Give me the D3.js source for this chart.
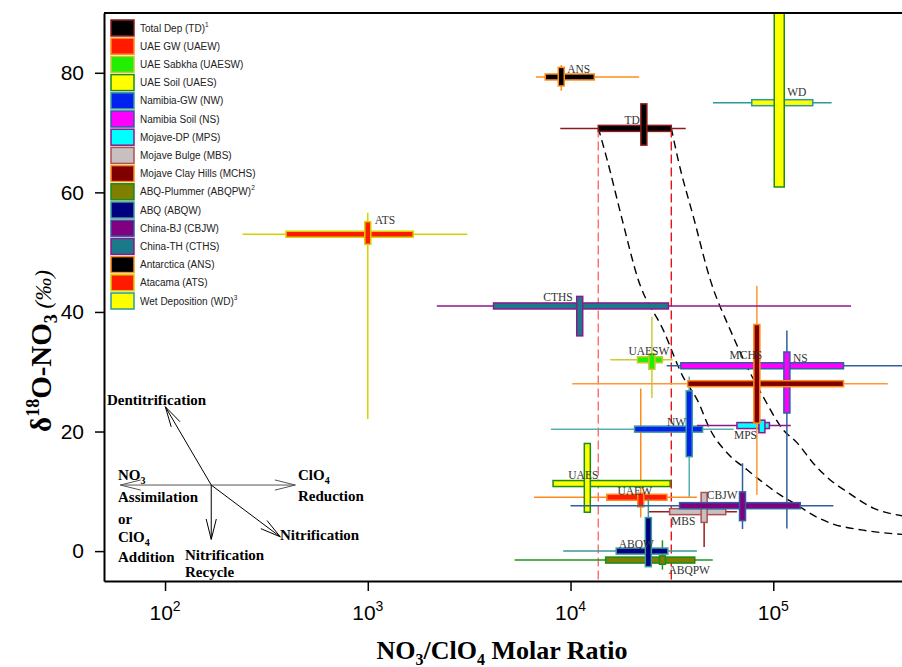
<!DOCTYPE html>
<html><head><meta charset="utf-8">
<script src="https://cdn.jsdelivr.net/npm/d3@7"></script>
<style>body{margin:0;background:#fff}svg{display:block}</style>
</head><body>
<svg id="chart" width="902" height="667"></svg>
<script>
// ---------------- DATA ----------------
const codes = ["TD","UAEW","UAESW","UAES","NW","NS","MPS","MBS","MCHS","ABQPW","ABQW","CBJW","CTHS","ANS","ATS","WD"];
const legendNames = ["Total Dep (TD)","UAE GW (UAEW)","UAE Sabkha (UAESW)","UAE Soil (UAES)","Namibia-GW (NW)","Namibia Soil (NS)","Mojave-DP (MPS)","Mojave Bulge (MBS)","Mojave Clay Hills (MCHS)","ABQ-Plummer (ABQPW)","ABQ (ABQW)","China-BJ (CBJW)","China-TH (CTHS)","Antarctica (ANS)","Atacama (ATS)","Wet Deposition (WD)"];
const legendNotes = ["1","","","","","","","","","2","","","","","","3"];
// NO3/ClO4 molar ratio: centre, full range (thin line), inner range (thick bar)
const ratioMid = [23000,22200,25200,12100,38500,116700,87900,45600,83000,28400,24200,70500,11100,9000,1000,107000];
const ratioMin = [8900,6600,15700,8200,8000,29800,42000,24300,10200,5300,9200,10000,2190,6750,241,50400];
const ratioMax = [37000,42000,31900,31000,63700,600000,122000,66200,367000,50300,42000,198000,242000,21800,3100,194000];
const ratioLo  = [13700,15100,21400,8200,20700,35000,66200,30800,37800,14900,16800,34500,4170,7500,395,78300];
const ratioHi  = [31400,29900,28400,31000,44800,222000,95700,58300,222000,41000,30200,135800,30400,13100,1675,156600];
// d18O-NO3 (permil): centre, full range (thin line), inner range (thick bar)
const d18Mid = [70.7,9.0,32.0,11.3,20.4,31.0,21.0,6.6,28.0,-1.5,0.0,7.6,41.0,79.3,53.0,75.0];
const d18Min = [67.9,5.6,25.6,6.5,9.1,3.8,19.8,0.7,9.4,-3.1,-2.6,3.7,36.0,77.0,22.1,60.9];
const d18Max = [74.8,27.2,39.2,18.0,29.2,36.9,21.9,9.8,44.4,1.8,8.8,14.7,42.6,81.3,56.6,92];
const d18Lo  = [67.9,7.4,30.4,6.5,15.8,23.1,19.8,4.8,21.4,-2.2,-2.6,5.1,36.0,77.8,51.3,60.9];
const d18Hi  = [74.8,9.7,33.0,18.0,26.8,33.3,21.9,9.8,37.9,-0.8,5.6,9.9,42.6,80.9,55.1,92];
// mixing curves (dashed black)
const curveA_ratio = [13700,15170,17990,21570,28640,35960,42170,48860,59270,74300,91200,108100,131200,157400,190900,277500,432300];
const curveA_d18   = [70.8,65.4,55.4,45.4,37.0,29.1,25.3,20.3,16.4,13.6,11.2,9.4,7.7,6.0,4.7,3.5,2.8];
const curveB_ratio = [31380,33970,40740,48860,61340,74300,89150,111900,131200,157400,190900,231400,311100,432300];
const curveB_d18   = [70.8,65.4,55.4,45.4,37.0,30.8,25.8,20.3,18.1,14.7,11.9,9.9,7.2,5.9];
// process vectors (start point then end points)
const vecOrigin = [169, 11.05];
const vecEndsRatio = [100.3, 60.2, 439, 169, 370];
const vecEndsD18   = [24.15, 11.05, 11.05, 1.96, 2.39];
const xTicks = [100,1000,10000,100000];
const yTicks = [0,20,40,60,80];

// ---------------- STYLES ----------------
const styles = {
  TD:{thin:"#8b1c1c",fill:"#000000",stroke:"#8b1c1c"},
  UAEW:{thin:"#ff8c1a",fill:"#ff1a00",stroke:"#ff8c1a"},
  UAESW:{thin:"#cccc33",fill:"#22ee00",stroke:"#c8c830"},
  UAES:{thin:"#1a8c1a",fill:"#ffff00",stroke:"#1a8c1a"},
  NW:{thin:"#5aaeb0",fill:"#0022ee",stroke:"#3a9a9a"},
  NS:{thin:"#2f5f9f",fill:"#ff00ff",stroke:"#2f5f9f"},
  MPS:{thin:"#8b1a8b",fill:"#00ffff",stroke:"#8b1a8b"},
  MBS:{thin:"#9b1c1c",fill:"#c8c0c0",stroke:"#b05050"},
  MCHS:{thin:"#ff9933",fill:"#800000",stroke:"#ff8c1a"},
  ABQPW:{thin:"#1a9a1a",fill:"#808000",stroke:"#1a8c1a"},
  ABQW:{thin:"#3a9a9a",fill:"#000080",stroke:"#3a9a9a"},
  CBJW:{thin:"#2f5f9f",fill:"#800080",stroke:"#2f5f9f"},
  CTHS:{thin:"#8b1a8b",fill:"#1a7a8a",stroke:"#8b1a8b"},
  ANS:{thin:"#ff8c1a",fill:"#000000",stroke:"#ff8c1a"},
  ATS:{thin:"#d4d400",fill:"#ff1a00",stroke:"#d4d400"},
  WD:{thin:"#2a9a9a",fill:"#ffff00",stroke:"#2a9a9a",vStroke:"#1a8c1a",vWidth:10}
};
// label placement: [dx, dy, anchor]
const labelPos = {
  TD:[-4,-4,"end"], UAEW:[-6,-2,"middle"], UAESW:[-3,-5,"middle"], UAES:[-4,-5,"middle"],
  NW:[-3,-3,"end"], NS:[6,-4,"start"], MPS:[-28,13,"start"], MBS:[-21,13,"middle"],
  MCHS:[-11,-25,"middle"], ABQPW:[6,14,"start"], ABQW:[-12,-3,"middle"], CBJW:[-5,-7,"end"],
  CTHS:[-7,-5,"end"], ANS:[6,-4,"start"], ATS:[7,-10,"start"], WD:[8,-7,"start"]
};

// ---------------- CHART ----------------
const svg = d3.select("#chart");
const L = 104, T = 13, R = 915, B = 581;
const x = d3.scaleLog().domain([50, 500000]).range([L, R]);
const y = d3.scaleLinear().domain([-5, 90]).range([B, T]);

svg.append("defs").append("clipPath").attr("id","clip")
  .append("rect").attr("x",L).attr("y",T).attr("width",R-L).attr("height",B-T);
const plot = svg.append("g").attr("clip-path","url(#clip)");

// mixing curves
const line = d3.line().x(d=>x(d[0])).y(d=>y(d[1])).curve(d3.curveMonotoneX);
[[curveA_ratio,curveA_d18],[curveB_ratio,curveB_d18]].forEach(([xs,ys])=>{
  plot.append("path").datum(xs.map((v,i)=>[v,ys[i]]))
    .attr("d",line).attr("fill","none").attr("stroke","#000")
    .attr("stroke-width",1.4).attr("stroke-dasharray","8,5");
});
// red dashed verticals at TD inner range
[[ratioLo[0],"#ff6060"],[ratioHi[0],"#ee0000"]].forEach(([v,c])=>{
  plot.append("line").attr("x1",x(v)).attr("x2",x(v)).attr("y1",y(d18Mid[0])).attr("y2",y(-5))
    .attr("stroke",c).attr("stroke-width",1.3).attr("stroke-dasharray","9,4");
});

// crosses
const TH = 6;
codes.forEach((c,i)=>{
  const s = styles[c];
  const g = plot.append("g");
  const cx = x(ratioMid[i]), cy = y(d18Mid[i]);
  g.append("line").attr("x1",x(ratioMin[i])).attr("x2",x(ratioMax[i])).attr("y1",cy).attr("y2",cy)
    .attr("stroke",s.thin).attr("stroke-width",1.5);
  g.append("line").attr("x1",cx).attr("x2",cx).attr("y1",y(d18Min[i])).attr("y2",y(d18Max[i]))
    .attr("stroke",s.thin).attr("stroke-width",1.5);
  g.append("rect").attr("x",x(ratioLo[i])).attr("width",x(ratioHi[i])-x(ratioLo[i]))
    .attr("y",cy-TH/2).attr("height",TH).attr("fill",s.fill).attr("stroke",s.stroke).attr("stroke-width",1.5);
  const vw = s.vWidth || TH;
  g.append("rect").attr("x",cx-vw/2).attr("width",vw)
    .attr("y",y(d18Hi[i])).attr("height",y(d18Lo[i])-y(d18Hi[i]))
    .attr("fill",s.fill).attr("stroke",s.vStroke||s.stroke).attr("stroke-width",1.5);
  const lp = labelPos[c];
  svg.append("text").attr("x",cx+lp[0]).attr("y",cy+lp[1]).attr("text-anchor",lp[2])
    .attr("font-family","'Liberation Serif','Times New Roman',serif").attr("font-size",11.5)
    .attr("fill","#333").text(c);
});

// process vectors
const ox = x(vecOrigin[0]), oy = y(vecOrigin[1]);
vecEndsRatio.forEach((v,i)=>{
  const ex = x(v), ey = y(vecEndsD18[i]);
  const col = (i===1||i===2) ? "#555" : "#000";
  svg.append("line").attr("x1",ox).attr("y1",oy).attr("x2",ex).attr("y2",ey).attr("stroke",col).attr("stroke-width",1);
  const a = Math.atan2(ey-oy, ex-ox), len = 21, sp = 14*Math.PI/180;
  [a+Math.PI-sp, a+Math.PI+sp].forEach(b=>{
    svg.append("line").attr("x1",ex).attr("y1",ey).attr("x2",ex+len*Math.cos(b)).attr("y2",ey+len*Math.sin(b))
      .attr("stroke",col).attr("stroke-width",1);
  });
});
const annFont = "'Liberation Serif','Times New Roman',serif";
function ann(tx,ty,parts){
  const t = svg.append("text").attr("x",tx).attr("y",ty).attr("font-family",annFont)
    .attr("font-size",15).attr("font-weight","bold").attr("fill","#000");
  parts.forEach(p=>{
    const ts = t.append("tspan").text(p[0]);
    if(p[1]==="sub") ts.attr("font-size",10).attr("dy",4);
  });
}
ann(107,405,[["Dentitrification"]]);
ann(118,480,[["NO"],["3","sub"]]);
ann(118,502,[["Assimilation"]]);
ann(118,524,[["or"]]);
ann(118,542,[["ClO"],["4","sub"]]);
ann(118,562,[["Addition"]]);
ann(298,480,[["ClO"],["4","sub"]]);
ann(298,501,[["Reduction"]]);
ann(280,540,[["Nitrification"]]);
ann(185,560,[["Nitrification"]]);
ann(185,577,[["Recycle"]]);

// axes
const xAx = svg.append("g").attr("transform",`translate(0,${B})`)
  .call(d3.axisBottom(x).tickValues(xTicks).tickSize(10).tickSizeOuter(0).tickFormat(""));
xAx.select(".domain").attr("stroke-width",2);
xAx.selectAll(".tick line").attr("stroke-width",1.5);
xTicks.forEach(v=>{
  const t = svg.append("text").attr("x",x(v)).attr("y",620).attr("text-anchor","middle")
    .attr("font-family","'Liberation Sans',Arial,sans-serif").attr("font-size",21).attr("fill","#000");
  t.append("tspan").text("10");
  t.append("tspan").text(Math.round(Math.log10(v))).attr("font-size",14).attr("dy",-9);
});
const yAx = svg.append("g").attr("transform",`translate(${L},0)`)
  .call(d3.axisLeft(y).tickValues(yTicks).tickSize(9).tickSizeOuter(0).tickPadding(11));
yAx.select(".domain").attr("stroke-width",2);
yAx.selectAll(".tick line").attr("stroke-width",1.5);
yAx.selectAll(".tick text").attr("font-family","'Liberation Sans',Arial,sans-serif").attr("font-size",21).attr("fill","#000");
// top & right frame
svg.append("line").attr("x1",L).attr("x2",R).attr("y1",T).attr("y2",T).attr("stroke","#000").attr("stroke-width",2);
svg.append("line").attr("x1",R).attr("x2",R).attr("y1",T).attr("y2",B).attr("stroke","#000").attr("stroke-width",2);

// legend
const lg = svg.append("g");
codes.forEach((c,i)=>{
  const s = styles[c], ty = 20 + i*18.2;
  lg.append("rect").attr("x",111).attr("y",ty).attr("width",23).attr("height",16)
    .attr("fill",s.fill).attr("stroke",s.stroke).attr("stroke-width",1.5);
  const t = lg.append("text").attr("x",140).attr("y",ty+11.5)
    .attr("font-family","'Liberation Sans',Arial,sans-serif").attr("font-size",10).attr("fill","#222");
  t.append("tspan").text(legendNames[i]);
  if(legendNotes[i]) t.append("tspan").text(legendNotes[i]).attr("font-size",6.5).attr("dy",-5);
});

// axis titles
const xt = svg.append("text").attr("x",502).attr("y",659).attr("text-anchor","middle")
  .attr("font-family",annFont).attr("font-weight","bold").attr("font-size",26).attr("fill","#000");
xt.append("tspan").text("NO");
xt.append("tspan").text("3").attr("font-size",16).attr("dy",6);
xt.append("tspan").text("/ClO").attr("dy",-6);
xt.append("tspan").text("4").attr("font-size",16).attr("dy",6);
xt.append("tspan").text(" Molar Ratio").attr("dy",-6);

const yt = svg.append("text").attr("transform","translate(51,351) rotate(-90)").attr("text-anchor","middle")
  .attr("font-family",annFont).attr("font-weight","bold").attr("font-size",29).attr("fill","#000");
yt.append("tspan").text("δ");
yt.append("tspan").text("18").attr("font-size",18).attr("dy",-12);
yt.append("tspan").text("O-NO").attr("dy",12);
yt.append("tspan").text("3").attr("font-size",18).attr("dy",6);
yt.append("tspan").text(" (‰)").attr("dy",-6).attr("font-weight","normal").attr("font-style","italic").attr("font-size",23);
</script>
</body></html>
